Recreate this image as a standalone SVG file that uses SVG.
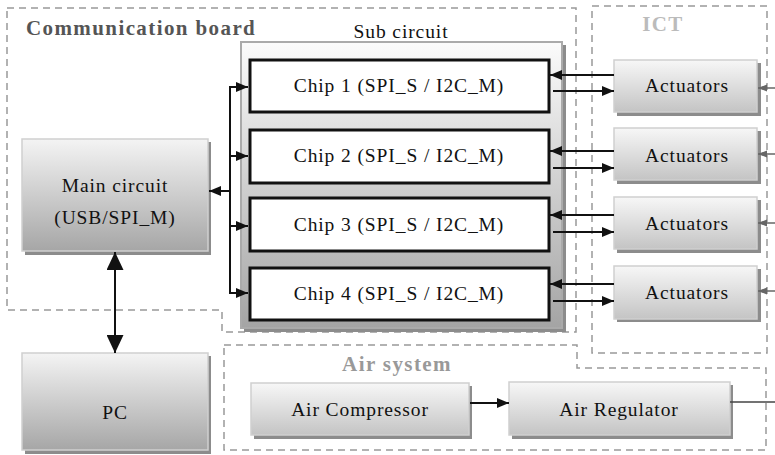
<svg xmlns="http://www.w3.org/2000/svg" width="775" height="455" viewBox="0 0 775 455">
<style>
.t{font-size:19.5px;letter-spacing:0.9px;fill:#111;text-anchor:middle}
.h{font-weight:bold;font-size:21px;letter-spacing:1.4px}
.dash{fill:none;stroke:#999;stroke-width:1.5;stroke-dasharray:7 5}
.sh{fill:#8c8c8c}
.bx{stroke:#cfcfcf;stroke-width:1.5}
.chip{fill:#fff;stroke:#111;stroke-width:3}
.ln{fill:none;stroke:#111;stroke-width:2}
.gl{fill:none;stroke:#666;stroke-width:1.5}
</style>
<defs>
<linearGradient id="gA" x1="0" y1="0" x2="0" y2="1"><stop offset="0" stop-color="#f7f7f7"/><stop offset="1" stop-color="#c4c4c4"/></linearGradient>
<linearGradient id="gM" x1="0" y1="0" x2="0" y2="1"><stop offset="0" stop-color="#f4f4f4"/><stop offset="1" stop-color="#a6a6a6"/></linearGradient>
<linearGradient id="gS" x1="0" y1="0" x2="0" y2="1"><stop offset="0" stop-color="#fbfbfb"/><stop offset="1" stop-color="#a4a4a4"/></linearGradient>
<marker id="a" viewBox="0 0 12 10" refX="12" refY="5" markerWidth="12" markerHeight="10" markerUnits="userSpaceOnUse" orient="auto"><path d="M0,0 L12,5 L0,10 Z" fill="#111"/></marker>
<marker id="big" viewBox="0 0 18 17" refX="18" refY="8.5" markerWidth="18" markerHeight="17" markerUnits="userSpaceOnUse" orient="auto"><path d="M0,0 L18,8.5 L0,17 Z" fill="#111"/></marker>
<marker id="gar" viewBox="0 0 10 10" refX="10" refY="5" markerWidth="9" markerHeight="9" markerUnits="userSpaceOnUse" orient="auto"><path d="M0,1 L10,5 L0,9 Z" fill="#666"/></marker>
</defs>

<g font-family="Liberation Serif, Times New Roman, serif">
<g id="boundaries">
<polygon class="dash" points="7,8 576,8 576,332 222,332 222,310 7,310"/>
<rect class="dash" x="592" y="6" width="175" height="347"/>
<polygon class="dash" points="224,345 577,345 577,368 766,368 766,450 224,450"/>
<text class="h" x="26" y="35" fill="#555">Communication board</text>
<text class="h" x="663" y="31" fill="#bbb" text-anchor="middle">ICT</text>
<text class="h" x="397" y="371" fill="#999" text-anchor="middle">Air system</text>
</g>

<g id="sub-circuit">
<rect class="sh" x="244" y="45" width="322" height="287"/>
<rect x="241" y="42" width="321" height="286" fill="url(#gS)" stroke="#aaa" stroke-width="2"/>
<text class="t" x="401" y="38">Sub circuit</text>
</g>

<g id="chip1"><rect class="chip" x="250" y="60" width="299" height="52"/><text class="t" x="399" y="92">Chip 1 (SPI_S / I2C_M)</text></g>
<g id="chip2"><rect class="chip" x="250" y="130" width="299" height="53"/><text class="t" x="399" y="162">Chip 2 (SPI_S / I2C_M)</text></g>
<g id="chip3"><rect class="chip" x="250" y="198" width="299" height="53"/><text class="t" x="399" y="231">Chip 3 (SPI_S / I2C_M)</text></g>
<g id="chip4"><rect class="chip" x="250" y="268" width="299" height="52"/><text class="t" x="399" y="300">Chip 4 (SPI_S / I2C_M)</text></g>

<g id="main-circuit">
<rect class="sh" x="25" y="142" width="186" height="113"/>
<rect class="bx" x="22" y="139" width="186" height="112" fill="url(#gM)"/>
<text class="t" x="115" y="192">Main circuit</text>
<text class="t" x="115" y="224">(USB/SPI_M)</text>
</g>

<g id="pc">
<rect class="sh" x="25" y="356" width="186" height="98"/>
<rect class="bx" x="22" y="353" width="186" height="97" fill="url(#gM)"/>
<text class="t" x="115" y="419">PC</text>
</g>

<g id="actuators1"><rect class="sh" x="617" y="63" width="144" height="53"/><rect class="bx" x="614" y="60" width="143" height="52" fill="url(#gA)"/><text class="t" x="687" y="92">Actuators</text></g>
<g id="actuators2"><rect class="sh" x="617" y="131" width="144" height="53"/><rect class="bx" x="614" y="128" width="143" height="52" fill="url(#gA)"/><text class="t" x="687" y="162">Actuators</text></g>
<g id="actuators3"><rect class="sh" x="617" y="200" width="144" height="53"/><rect class="bx" x="614" y="197" width="143" height="52" fill="url(#gA)"/><text class="t" x="687" y="230">Actuators</text></g>
<g id="actuators4"><rect class="sh" x="617" y="269" width="144" height="53"/><rect class="bx" x="614" y="266" width="143" height="53" fill="url(#gA)"/><text class="t" x="687" y="299">Actuators</text></g>

<g id="air-compressor">
<rect class="sh" x="254" y="386" width="218" height="53"/>
<rect class="bx" x="251" y="383" width="218" height="52" fill="url(#gA)"/>
<text class="t" x="360" y="416">Air Compressor</text>
</g>
<g id="air-regulator">
<rect class="sh" x="512" y="385" width="221" height="54"/>
<rect class="bx" x="509" y="382" width="221" height="53" fill="url(#gA)"/>
<text class="t" x="619" y="416">Air Regulator</text>
</g>
</g>

<g id="connectors">
<line class="ln" x1="115" y1="300" x2="115" y2="252" marker-end="url(#big)"/>
<line class="ln" x1="115" y1="300" x2="115" y2="353" marker-end="url(#big)"/>
<polyline class="ln" points="248,87 230,87 230,293 248,293" marker-end="url(#a)"/>
<line class="ln" x1="230" y1="87" x2="248" y2="87" marker-end="url(#a)"/>
<line class="ln" x1="230" y1="156" x2="248" y2="156" marker-end="url(#a)"/>
<line class="ln" x1="230" y1="226" x2="248" y2="226" marker-end="url(#a)"/>
<line class="ln" x1="230" y1="191" x2="209" y2="191" marker-end="url(#a)"/>

<line class="ln" x1="614" y1="75" x2="550" y2="75" marker-end="url(#a)"/>
<line class="ln" x1="553" y1="91" x2="614" y2="91" marker-end="url(#a)"/>
<line class="ln" x1="614" y1="151" x2="550" y2="151" marker-end="url(#a)"/>
<line class="ln" x1="553" y1="168" x2="614" y2="168" marker-end="url(#a)"/>
<line class="ln" x1="614" y1="215" x2="550" y2="215" marker-end="url(#a)"/>
<line class="ln" x1="553" y1="232" x2="614" y2="232" marker-end="url(#a)"/>
<line class="ln" x1="614" y1="284" x2="550" y2="284" marker-end="url(#a)"/>
<line class="ln" x1="553" y1="301" x2="614" y2="301" marker-end="url(#a)"/>

<line class="gl" x1="775" y1="88" x2="758" y2="88" marker-end="url(#gar)"/>
<line class="gl" x1="775" y1="154" x2="758" y2="154" marker-end="url(#gar)"/>
<line class="gl" x1="775" y1="223" x2="758" y2="223" marker-end="url(#gar)"/>
<line class="gl" x1="775" y1="291" x2="758" y2="291" marker-end="url(#gar)"/>

<line class="ln" x1="470" y1="403" x2="509" y2="403" marker-end="url(#a)"/>
<line class="gl" x1="730" y1="402" x2="775" y2="402" style="stroke:#444"/>
</g>
</svg>
